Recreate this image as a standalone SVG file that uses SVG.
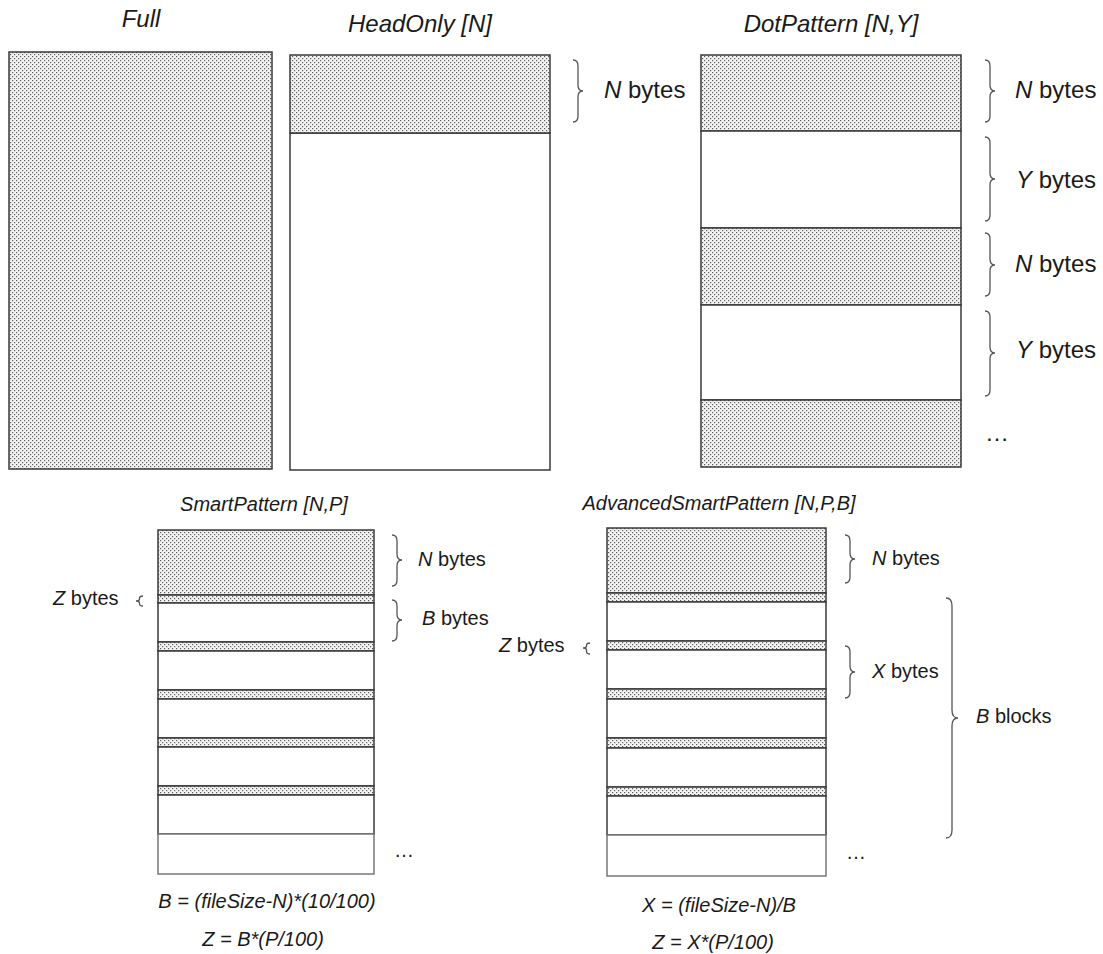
<svg xmlns="http://www.w3.org/2000/svg" width="1103" height="954" viewBox="0 0 1103 954">
<defs>
<pattern id="dots" width="4" height="4" patternUnits="userSpaceOnUse">
<rect width="4" height="4" fill="#f3f3f3"/>
<rect x="0" y="0" width="1.2" height="1.2" fill="#5a5a5a"/>
<rect x="2" y="2" width="1.2" height="1.2" fill="#5a5a5a"/>
</pattern>
<style>
text{font-family:"Liberation Sans",Arial,sans-serif;fill:#1a1a1a}
.title{font-size:24px;font-style:italic;text-anchor:middle}
.title2{font-size:20px;font-style:italic;text-anchor:middle}
.lbl{font-size:24px}
.lbl2{font-size:20px}
.i{font-style:italic}
.d{fill:url(#dots);stroke:#3a3a3a;stroke-width:1.5}
.w{fill:#fff;stroke:#3a3a3a;stroke-width:1.5}
.wl{fill:#fff;stroke:#777;stroke-width:1.5}
.br{fill:none;stroke:#555;stroke-width:1.3}
</style>
</defs>
<rect width="1103" height="954" fill="#fff"/>

<g id="full">
<text class="title" x="141" y="27">Full</text>
<rect class="d" x="9" y="52" width="263" height="417"/>
</g>

<g id="headonly">
<text class="title" x="420" y="32">HeadOnly [N]</text>
<rect class="w" x="290" y="133" width="260" height="337"/>
<rect class="d" x="290" y="55" width="260" height="78"/>
</g>

<g id="dotpattern">
<text class="title" x="831" y="32">DotPattern [N,Y]</text>
<rect class="d" x="701" y="55" width="260" height="76"/>
<rect class="w" x="701" y="131" width="260" height="97"/>
<rect class="d" x="701" y="228" width="260" height="77"/>
<rect class="w" x="701" y="305" width="260" height="95"/>
<rect class="d" x="701" y="400" width="260" height="67"/>
</g>

<g id="smartpattern">
<text class="title2" x="264" y="511">SmartPattern [N,P]</text>
<rect class="d" x="158" y="530" width="216" height="65"/>
<rect class="d" x="158" y="595" width="216" height="8"/>
<rect class="w" x="158" y="603" width="216" height="39"/>
<rect class="d" x="158" y="642" width="216" height="9"/>
<rect class="w" x="158" y="651" width="216" height="39"/>
<rect class="d" x="158" y="690" width="216" height="9"/>
<rect class="w" x="158" y="699" width="216" height="39"/>
<rect class="d" x="158" y="738" width="216" height="9"/>
<rect class="w" x="158" y="747" width="216" height="39"/>
<rect class="d" x="158" y="786" width="216" height="9"/>
<rect class="w" x="158" y="795" width="216" height="39"/>
<rect class="wl" x="158" y="834" width="216" height="40"/>
<text class="lbl2" x="267" y="908" text-anchor="middle"><tspan class="i">B = (fileSize-N)*(10/100)</tspan></text>
<text class="lbl2" x="263" y="946" text-anchor="middle"><tspan class="i">Z = B*(P/100)</tspan></text>
</g>

<g id="advancedsmartpattern">
<text class="title2" x="719" y="510">AdvancedSmartPattern [N,P,B]</text>
<rect class="d" x="607" y="528" width="219" height="65"/>
<rect class="d" x="607" y="593" width="219" height="9"/>
<rect class="w" x="607" y="602" width="219" height="39"/>
<rect class="d" x="607" y="641" width="219" height="9"/>
<rect class="w" x="607" y="650" width="219" height="39"/>
<rect class="d" x="607" y="689" width="219" height="10"/>
<rect class="w" x="607" y="699" width="219" height="39"/>
<rect class="d" x="607" y="738" width="219" height="10"/>
<rect class="w" x="607" y="748" width="219" height="39"/>
<rect class="d" x="607" y="787" width="219" height="9"/>
<rect class="w" x="607" y="796" width="219" height="39"/>
<rect class="wl" x="607" y="835" width="219" height="41"/>
<text class="lbl2" x="719" y="912" text-anchor="middle"><tspan class="i">X = (fileSize-N)/B</tspan></text>
<text class="lbl2" x="713" y="949" text-anchor="middle"><tspan class="i">Z = X*(P/100)</tspan></text>
</g>

<g id="connectors">
<path class="br" d="M573,60 Q578,60 578,66 L578,85 Q578,91 583,91 Q578,91 578,97 L578,116 Q578,122 573,122"/>
<path class="br" d="M985,60 Q990,60 990,66 L990,85 Q990,91 995,91 Q990,91 990,97 L990,116 Q990,122 985,122"/>
<path class="br" d="M985,137 Q990,137 990,143 L990,173 Q990,179 995,179 Q990,179 990,185 L990,215 Q990,221 985,221"/>
<path class="br" d="M985,233 Q990,233 990,239 L990,259 Q990,265 995,265 Q990,265 990,271 L990,290 Q990,296 985,296"/>
<path class="br" d="M985,311 Q990,311 990,317 L990,347 Q990,353 995,353 Q990,353 990,359 L990,390 Q990,396 985,396"/>
<path class="br" d="M392,535 Q397,535 397,541 L397,554 Q397,560 402,560 Q397,560 397,566 L397,580 Q397,586 392,586"/>
<path class="br" d="M392,600 Q397,600 397,606 L397,614 Q397,620 402,620 Q397,620 397,626 L397,635 Q397,641 392,641"/>
<path class="br" d="M143,596 Q139.5,596 139.5,598.5 L139.5,599 Q139.5,601 136,601 Q139.5,601 139.5,603 L139.5,603.5 Q139.5,606 143,606"/>
<path class="br" d="M845,535 Q850,535 850,541 L850,553 Q850,559 855,559 Q850,559 850,565 L850,577 Q850,583 845,583"/>
<path class="br" d="M845,646 Q850,646 850,652 L850,666 Q850,672 855,672 Q850,672 850,678 L850,692 Q850,698 845,698"/>
<path class="br" d="M946,598 Q952,598 952,606 L952,710 Q952,718 958,718 Q952,718 952,726 L952,830 Q952,838 946,838"/>
<path class="br" d="M590,643 Q586.5,643 586.5,645.5 L586.5,646 Q586.5,648 583,648 Q586.5,648 586.5,650 L586.5,651.5 Q586.5,654 590,654"/>
</g>

<g id="labels">
<text class="lbl" x="604" y="98"><tspan class="i">N</tspan> bytes</text>
<text class="lbl" x="1015" y="98"><tspan class="i">N</tspan> bytes</text>
<text class="lbl" x="1016" y="188"><tspan class="i">Y</tspan> bytes</text>
<text class="lbl" x="1015" y="272"><tspan class="i">N</tspan> bytes</text>
<text class="lbl" x="1016" y="358"><tspan class="i">Y</tspan> bytes</text>
<text class="lbl" x="985" y="441">…</text>
<text class="lbl2" x="418" y="566"><tspan class="i">N</tspan> bytes</text>
<text class="lbl2" x="422" y="625"><tspan class="i">B</tspan> bytes</text>
<text class="lbl2" x="53" y="605"><tspan class="i">Z</tspan> bytes</text>
<text class="lbl2" x="394" y="857">…</text>
<text class="lbl2" x="872" y="565"><tspan class="i">N</tspan> bytes</text>
<text class="lbl2" x="872" y="678"><tspan class="i">X</tspan> bytes</text>
<text class="lbl2" x="499" y="652"><tspan class="i">Z</tspan> bytes</text>
<text class="lbl2" x="976" y="723"><tspan class="i">B</tspan> blocks</text>
<text class="lbl2" x="846" y="859">…</text>
</g>
</svg>
